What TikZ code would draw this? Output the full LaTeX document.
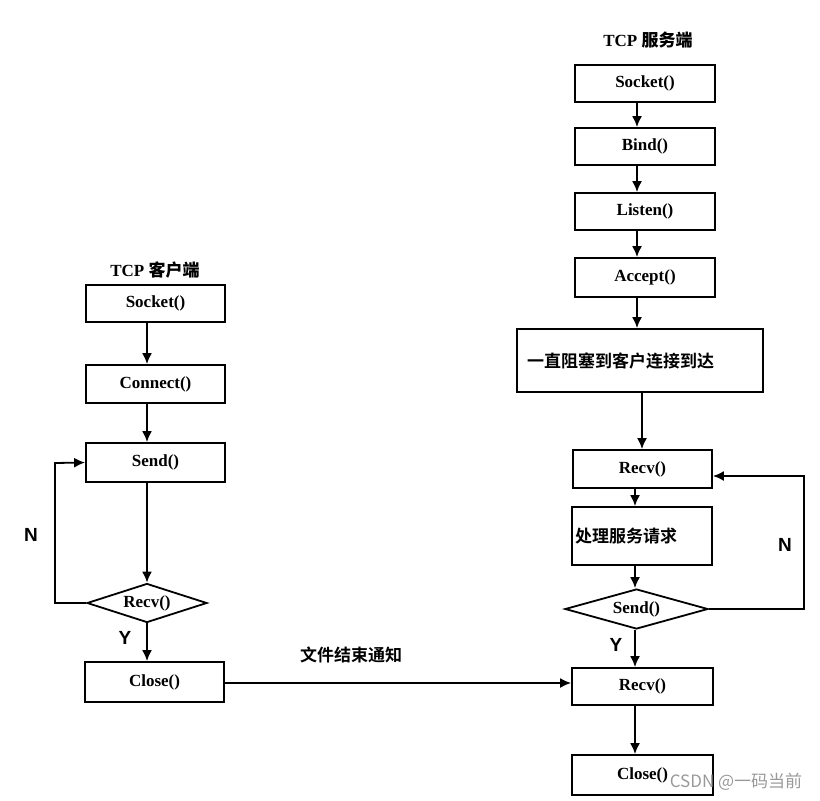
\documentclass[tikz,border=0pt]{standalone}
\usepackage{fontspec}
\setmainfont{Liberation Serif}
\setsansfont{Liberation Sans}
\newfontfamily\cjkb{Noto Sans CJK SC Bold}
\newfontfamily\cjk{Noto Sans CJK SC}
\usetikzlibrary{shapes.geometric,arrows.meta}
\begin{document}
\begin{tikzpicture}[x=1pt,y=-1pt,
  line width=1.8pt,
  box/.style={draw,rectangle,inner sep=0pt,minimum width=140pt,minimum height=38pt,
    font=\bfseries\fontsize{17}{19}\selectfont},
  cbox/.style={draw,rectangle,inner ysep=0pt,align=left,
    font=\cjkb\fontsize{17}{19}\selectfont},
  dia/.style={draw,diamond,shape aspect=3.5,inner sep=0pt,font=\bfseries\fontsize{17}{19}\selectfont},
  arr/.style={-{Latex[length=11pt,width=10pt]}},
  title/.style={font=\fontsize{17}{19}\selectfont},
  yn/.style={font=\sffamily\bfseries\fontsize{19}{22}\selectfont},
  lab/.style={font=\cjkb\fontsize{17}{19}\selectfont},
  wmark/.style={font=\cjk\fontsize{17}{19}\selectfont,text=black!40}
]
\useasboundingbox (0,0) rectangle (820,801);

% server side
\node[title] (stitle) at (648,40) {\bfseries TCP {\cjkb 服务端}};
\node[box,minimum height=37pt] (ssock) at (645,83.5) {Socket()};
\node[box,minimum height=37pt] (sbind) at (645,146.5) {Bind()};
\node[box,minimum height=37pt] (slisten) at (645,211.5) {Listen()};
\node[box,minimum height=39pt] (saccept) at (645,277.5) {Accept()};
\node[cbox,minimum height=63pt,text width=226pt,inner xsep=10pt] (swait) at (640,360.5) {一直阻塞到客户连接到达};
\node[box,minimum width=139pt] (srecv) at (642.5,469) {Recv()};
\node[cbox,minimum height=58pt,text width=134pt,inner xsep=3pt] (sproc) at (642,536) {处理服务请求};
\node[dia,minimum width=143pt,minimum height=40pt] (ssend) at (636.5,609) {Send()};
\node[box,minimum width=141pt,minimum height=37pt] (srecv2) at (642.5,686.5) {Recv()};
\node[box,minimum width=141pt,minimum height=40pt] (sclose) at (642.5,775) {Close()};

\draw[arr] ([xshift=-8pt]ssock.south) -- ([xshift=-8pt]sbind.north);
\draw[arr] ([xshift=-8pt]sbind.south) -- ([xshift=-8pt]slisten.north);
\draw[arr] ([xshift=-8pt]slisten.south) -- ([xshift=-8pt]saccept.north);
\draw[arr] ([xshift=-8pt]saccept.south) -- ([xshift=-3pt]swait.north);
\draw[arr] ([xshift=2pt]swait.south) -- ([xshift=-0.5pt]srecv.north);
\draw[arr] ([xshift=-7.5pt]srecv.south) -- ([xshift=-7pt]sproc.north);
\draw[arr] ([xshift=-7pt]sproc.south) -- ([xshift=-1.5pt]ssend.north);
\draw[arr] ([xshift=-1.5pt]ssend.south) -- ([xshift=-7.5pt]srecv2.north);
\draw[arr] ([xshift=-7.5pt]srecv2.south) -- ([xshift=-7.5pt]sclose.north);

\coordinate (sloopa) at (804,609);
\coordinate (sloopb) at (804,476);
\draw[arr] (ssend.east) -- (sloopa) -- (sloopb) -- ([yshift=-7pt]srecv.east);
\node[yn] (sn) at (785,545) {N};
\node[yn] (sy) at (616,645) {Y};

% client side
\node[title] (ctitle) at (155,270) {\bfseries TCP {\cjkb 客户端}};
\node[box,minimum width=139pt,minimum height=37pt] (csock) at (155.5,303.5) {Socket()};
\node[box,minimum width=139pt] (cconn) at (155.5,384) {Connect()};
\node[box,minimum width=139pt,minimum height=39pt] (csend) at (155.5,462.5) {Send()};
\node[dia,minimum width=120pt,minimum height=39pt] (crecv) at (147,603) {Recv()};
\node[box,minimum width=139pt,minimum height=40pt] (cclose) at (154.5,682) {Close()};

\draw[arr] ([xshift=-8.5pt]csock.south) -- ([xshift=-8.5pt]cconn.north);
\draw[arr] ([xshift=-8.5pt]cconn.south) -- ([xshift=-8.5pt]csend.north);
\draw[arr] ([xshift=-8.5pt]csend.south) -- (crecv.north);
\draw[arr] (crecv.south) -- ([xshift=-7.5pt]cclose.north);

\coordinate (cloopa) at (55,603);
\coordinate (cloopb) at (55,463);
\draw[arr] (crecv.west) -- (cloopa) -- (cloopb) -- (csend.west);
\node[yn] (cn) at (31,535) {N};
\node[yn] (cy) at (125,638) {Y};

% notification
\draw[arr] ([yshift=-1pt]cclose.east) -- ([yshift=-1pt]cclose.east -| srecv2.west);
\node[lab] (note) at (351,655) {文件结束通知};

\node[wmark] (wm) at (736,782) {CSDN @一码当前};
\end{tikzpicture}
\end{document}
